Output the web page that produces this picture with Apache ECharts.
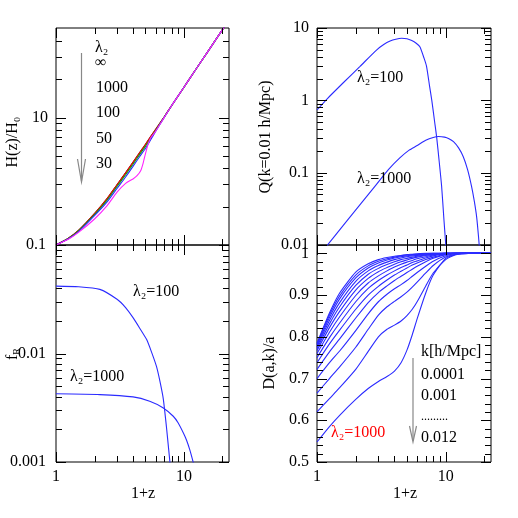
<!DOCTYPE html>
<html><head><meta charset="utf-8">
<script src="https://cdn.jsdelivr.net/npm/echarts@6/dist/echarts.min.js"></script>
<style>html,body{margin:0;padding:0;background:#fff}#c{width:518px;height:518px}</style>
</head><body><div id="c"></div>
<script>
// ---------------- data ----------------
const hzX = [1, 1.25, 1.5, 2, 2.5, 3, 3.5, 4, 4.5, 5, 5.5, 6, 7, 8, 10, 12, 15, 20, 22.5];
const hzInf   = [1, 1.13, 1.30, 1.76, 2.30, 2.97, 3.68, 4.45, 5.30, 6.15, 7.10, 8.05, 10.1, 12.4, 17.3, 22.8, 31.8, 49, 58.4];
const hz1000  = [1, 1.13, 1.30, 1.76, 2.30, 2.97, 3.68, 4.45, 5.30, 6.15, 7.10, 8.05, 10.1, 12.4, 17.3, 22.8, 31.8, 49, 58.4];
const hz100   = [1, 1.125, 1.29, 1.73, 2.24, 2.88, 3.56, 4.30, 5.12, 5.95, 6.90, 7.92, 10.05, 12.4, 17.3, 22.8, 31.8, 49, 58.4];
const hz50    = [1, 1.12, 1.275, 1.70, 2.17, 2.78, 3.42, 4.14, 4.93, 5.72, 6.71, 7.77, 10.0, 12.4, 17.3, 22.8, 31.8, 49, 58.4];
const hz30X   = [1, 1.25, 1.5, 2, 2.5, 3, 3.5, 4, 4.3, 4.6, 4.8, 5, 5.25, 5.5, 6, 7, 8, 10, 12, 15, 20, 22.5];
const hz30    = [1, 1.11, 1.255, 1.60, 2.03, 2.60, 3.05, 3.30, 3.50, 3.85, 4.40, 5.20, 6.20, 6.95, 7.80, 10.0, 12.4, 17.3, 22.8, 31.8, 49, 58.4];
const hzLegend = ['λ₂', '∞', '1000', '100', '50', '30'];

const q100X = [1, 1.2, 1.6, 2.16, 2.9, 3.3, 3.7, 4.1, 4.55, 5.0, 5.45, 5.9, 6.3, 6.8, 7.1, 7.5, 7.8, 8.2, 8.5, 8.9, 9.3, 9.7, 10.0, 10.3];
const q100  = [0.735, 1.05, 1.75, 2.95, 4.95, 5.9, 6.6, 7.0, 7.2, 7.1, 6.7, 6.15, 5.5, 3.8, 2.95, 1.56, 1.0, 0.51, 0.315, 0.144, 0.065, 0.022, 0.0105, 0.005];
const q1000X = [1.15, 1.6, 2.2, 2.9, 3.6, 4.4, 5.2, 5.95, 7.0, 8.0, 8.8, 9.8, 10.6, 11.5, 12.6, 13.7, 14.8, 15.9, 16.7, 17.4, 18.0, 18.5];
const q1000  = [0.009, 0.0187, 0.0377, 0.069, 0.111, 0.16, 0.205, 0.235, 0.28, 0.307, 0.316, 0.31, 0.295, 0.268, 0.22, 0.166, 0.11, 0.064, 0.04, 0.0245, 0.013, 0.007];

const f100X = [1, 1.5, 2.2, 3.0, 3.5, 4.0, 4.5, 5.1, 5.6, 6.1, 6.5, 6.9, 7.3, 7.6, 7.8, 8.0];
const f100  = [0.0418, 0.0412, 0.039, 0.0316, 0.0265, 0.0214, 0.0172, 0.0135, 0.0102, 0.0076, 0.0055, 0.0038, 0.0021, 0.0013, 0.00095, 0.0007];
const f1000X = [1, 2.2, 4.0, 5.4, 6.9, 8.25, 9.0, 9.9, 10.5, 11.1, 11.8, 12.2];
const f1000  = [0.00425, 0.00418, 0.00398, 0.00363, 0.00315, 0.00264, 0.0023, 0.00185, 0.00158, 0.0013, 0.001, 0.00085];

const dX = [1, 1.25, 1.5, 2, 2.5, 3, 3.5, 4, 4.5, 5, 5.5, 6, 7, 8, 10, 12, 15, 22.5];
const dK01 = [0.785,0.857,0.905,0.955,0.975,0.985,0.990,0.993,0.995,0.997,0.998,0.999,1,1,1,1,1,1];
const dK02 = [0.782,0.852,0.898,0.948,0.970,0.981,0.987,0.991,0.994,0.996,0.997,0.998,0.999,1,1,1,1,1];
const dK03 = [0.779,0.846,0.891,0.941,0.965,0.977,0.984,0.989,0.992,0.994,0.996,0.997,0.998,0.999,1,1,1,1];
const dK04 = [0.776,0.839,0.882,0.933,0.958,0.971,0.979,0.985,0.989,0.992,0.994,0.995,0.997,0.999,1,1,1,1];
const dK05 = [0.772,0.831,0.872,0.923,0.950,0.964,0.973,0.980,0.985,0.988,0.991,0.993,0.996,0.998,1,1,1,1];
const dK06 = [0.767,0.822,0.861,0.912,0.940,0.956,0.966,0.974,0.980,0.984,0.988,0.991,0.995,0.997,1,1,1,1];
const dK07 = [0.760,0.811,0.848,0.899,0.929,0.946,0.958,0.967,0.974,0.979,0.983,0.987,0.992,0.996,0.999,1,1,1];
const dK08 = [0.750,0.798,0.833,0.884,0.916,0.935,0.948,0.958,0.966,0.972,0.978,0.982,0.989,0.994,0.999,1,1,1];
const dK09 = [0.738,0.783,0.816,0.866,0.900,0.921,0.936,0.948,0.957,0.965,0.972,0.977,0.985,0.991,0.998,1,1,1];
const dK10 = [0.722,0.764,0.795,0.845,0.882,0.906,0.922,0.935,0.945,0.954,0.962,0.969,0.980,0.988,0.997,1,1,1];
const dK11 = [0.700,0.738,0.766,0.815,0.855,0.884,0.902,0.915,0.925,0.935,0.945,0.954,0.969,0.981,0.994,0.999,1,1];
const dK12 = [0.665,0.700,0.728,0.775,0.818,0.852,0.872,0.885,0.896,0.907,0.919,0.931,0.953,0.971,0.991,0.998,1,1];
const dK13 = [0.620,0.652,0.678,0.722,0.765,0.800,0.818,0.828,0.838,0.851,0.866,0.884,0.922,0.953,0.985,0.997,1,1];
const dK14 = [0.548,0.585,0.612,0.650,0.676,0.693,0.705,0.718,0.738,0.768,0.805,0.843,0.905,0.948,0.988,0.998,1,1];
const dCurves = [dK01,dK02,dK03,dK04,dK05,dK06,dK07,dK08,dK09,dK10,dK11,dK12,dK13,dK14];
const dLegend = ['k[h/Mpc]', '0.0001', '0.001', '.........', '0.012'];

const xMajorTicks = [1, 10];
const xMinorTicks = [2, 3, 4, 5, 6, 7, 8, 9, 20];
const hMajorTicks = [1, 10];
const hMinorTicks = [2, 3, 4, 5, 6, 7, 8, 9, 20, 30, 40];
const qMajorTicks = [0.01, 0.1, 1, 10];
const qMinorTicks = [0.02,0.03,0.04,0.05,0.06,0.07,0.08,0.09,0.2,0.3,0.4,0.5,0.6,0.7,0.8,0.9,2,3,4,5,6,7,8,9];
const fMajorTicks = [0.001, 0.01, 0.1];
const fMinorTicks = [0.002,0.003,0.004,0.005,0.006,0.007,0.008,0.009,0.02,0.03,0.04,0.05,0.06,0.07,0.08,0.09];
const dMajorTicks = [0.5, 0.6, 0.7, 0.8, 0.9, 1.0];
const dMinorTicks = [0.52,0.54,0.56,0.58,0.62,0.64,0.66,0.68,0.72,0.74,0.76,0.78,0.82,0.84,0.86,0.88,0.92,0.94,0.96,0.98];

// ---------------- chart ----------------
const FONT = "'Liberation Serif','DejaVu Serif',serif";
const BLUE = '#2b2bff';
const zip = (xs, ys) => xs.map((x, i) => [x, ys[i]]);

const gridBoxes = [
  {left: 56, top: 28, width: 173, height: 217},
  {left: 317, top: 28, width: 174, height: 217},
  {left: 56, top: 245, width: 173, height: 217},
  {left: 317, top: 245, width: 174, height: 217}
];
const grids = gridBoxes.map(g => Object.assign({}, g, {show: true, borderColor: '#000', borderWidth: 1, backgroundColor: 'transparent', containLabel: false}));

const isDecade = v => Math.abs(Math.log10(v) - Math.round(Math.log10(v))) < 1e-6;
const labelStyle = {fontFamily: FONT, fontSize: 16, color: '#000'};

const xAxes = [0,1,2,3].map(i => ({
  type: 'log', logBase: 10, gridIndex: i, min: 1, max: 22.5,
  axisLine: {show: false}, axisTick: {show: false}, splitLine: {show: false},
  axisLabel: Object.assign({show: i >= 2, margin: 7, showMaxLabel: false,
    formatter: v => isDecade(v) ? String(Math.round(v)) : ''}, labelStyle)
}));

const yCommon = {axisLine: {show: false}, axisTick: {show: false}, splitLine: {show: false}};
const yAxes = [
  Object.assign({type: 'log', logBase: 10, gridIndex: 0, min: 1, max: 50.5,
    axisLabel: Object.assign({margin: 8, formatter: v => (isDecade(v) && Math.round(v) !== 1) ? String(Math.round(v)) : ''}, labelStyle)}, yCommon),
  Object.assign({type: 'log', logBase: 10, gridIndex: 1, min: 0.01, max: 10,
    axisLabel: Object.assign({margin: 8, formatter: v => isDecade(v) ? String(+v.toPrecision(3)) : ''}, labelStyle)}, yCommon),
  Object.assign({type: 'log', logBase: 10, gridIndex: 2, min: 0.001, max: 0.1,
    axisLabel: Object.assign({margin: 10, formatter: v => isDecade(v) ? String(+v.toPrecision(3)) : ''}, labelStyle)}, yCommon),
  Object.assign({type: 'value', gridIndex: 3, min: 0.5, max: 1.02, interval: 0.1,
    axisLabel: Object.assign({margin: 8, showMaxLabel: true, formatter: v => {
      const r = Math.round(v * 10);
      if (Math.abs(v * 10 - r) > 1e-6) return '';
      return r === 10 ? '1' : (r / 10).toFixed(1);
    }}, labelStyle)}, yCommon)
];

function lineSeries(gi, data, color, z) {
  return {type: 'line', xAxisIndex: gi, yAxisIndex: gi, data, showSymbol: false, symbol: 'none',
    smooth: 0.2, clip: true, z: z || 2,
    lineStyle: {color, width: 1.1}, emphasis: {disabled: true}, silent: true};
}

const series = [
  lineSeries(0, zip(hzX, hzInf), '#000000', 2),
  lineSeries(0, zip(hzX, hz1000), '#ff0000', 3),
  lineSeries(0, zip(hzX, hz100), '#00b000', 4),
  lineSeries(0, zip(hzX, hz50), '#2b2bff', 5),
  lineSeries(0, zip(hz30X, hz30), '#ff22ff', 6),
  lineSeries(1, zip(q100X, q100), BLUE),
  lineSeries(1, zip(q1000X, q1000), BLUE),
  lineSeries(2, zip(f100X, f100), BLUE),
  lineSeries(2, zip(f1000X, f1000), BLUE),
  ...dCurves.map(c => lineSeries(3, zip(dX, c), BLUE))
];

function txt(x, y, text, opt) {
  return Object.assign({type: 'text', x, y, silent: true, z: 100,
    style: Object.assign({text, fontFamily: FONT, fontSize: 16, fill: '#000', align: 'left', verticalAlign: 'middle'}, (opt && opt.style) || {})},
    opt && opt.rotation ? {rotation: opt.rotation} : {});
}
const ROT = Math.PI / 2;
const GRAY = '#888';

const graphic = [
  txt(13, 142, 'H(z)/H₀', {rotation: ROT, style: {align: 'center'}}),
  txt(266, 137, 'Q(k=0.01 h/Mpc)', {rotation: ROT, style: {align: 'center'}}),
  {type: 'text', x: 13, y: 354, rotation: ROT, z: 100, silent: true,
    style: {text: '{m|f}{s|R}', align: 'center', verticalAlign: 'middle',
      rich: {m: {fontFamily: FONT, fontSize: 16, fill: '#000'}, s: {fontFamily: FONT, fontSize: 10, fill: '#000', padding: [9, 0, 0, 0]}}}},
  txt(270, 363, 'D(a,k)/a', {rotation: ROT, style: {align: 'center'}}),
  txt(143, 494, '1+z', {style: {align: 'center'}}),
  txt(405, 494, '1+z', {style: {align: 'center'}}),
  txt(95, 48, hzLegend[0]),
  txt(95, 63, hzLegend[1]),
  txt(96, 88, hzLegend[2]),
  txt(96, 113, hzLegend[3]),
  txt(96, 139, hzLegend[4]),
  txt(96, 164, hzLegend[5]),
  {type: 'line', z: 100, silent: true, shape: {x1: 81.5, y1: 53, x2: 81.5, y2: 181}, style: {stroke: GRAY, lineWidth: 1.2}},
  {type: 'polyline', z: 100, silent: true, shape: {points: [[77.5, 159], [81.5, 182], [85.5, 159]]}, style: {stroke: GRAY, lineWidth: 1.2, fill: null}},
  txt(357, 78, 'λ₂=100'),
  txt(357, 179, 'λ₂=1000'),
  txt(133, 292, 'λ₂=100'),
  txt(70, 377, 'λ₂=1000'),
  txt(421, 352, dLegend[0]),
  txt(421, 375, dLegend[1]),
  txt(421, 396, dLegend[2]),
  txt(421, 417, dLegend[3], {style: {fontSize: 12}}),
  txt(421, 438, dLegend[4]),
  txt(331, 433, 'λ₂=1000', {style: {fill: '#ff0000'}}),
  {type: 'line', z: 100, silent: true, shape: {x1: 413, y1: 358, x2: 413, y2: 441}, style: {stroke: GRAY, lineWidth: 1.2}},
  {type: 'polyline', z: 100, silent: true, shape: {points: [[409.5, 426], [413, 442], [416.5, 426]]}, style: {stroke: GRAY, lineWidth: 1.2, fill: null}}
];

const chart = echarts.init(document.getElementById('c'), null, {renderer: 'canvas'});
chart.setOption({
  animation: false,
  backgroundColor: '#fff',
  grid: grids,
  xAxis: xAxes,
  yAxis: yAxes,
  series,
  graphic
});

// Tick marks on all four sides, positioned through the axes' own scales.
const yMaj = [hMajorTicks, qMajorTicks, fMajorTicks, dMajorTicks];
const yMin = [hMinorTicks, qMinorTicks, fMinorTicks, dMinorTicks];
const yRef = [1, 0.01, 0.001, 0.5];
const tickEls = [];
function bar(x, y, w, h) {
  tickEls.push({type: 'rect', z: 50, silent: true, shape: {x, y, width: w, height: h}, style: {fill: '#000'}});
}
for (let g = 0; g < 4; g++) {
  const b = gridBoxes[g];
  const top = b.top, bot = b.top + b.height, lft = b.left, rgt = b.left + b.width;
  const addX = (v, L) => {
    const pt = chart.convertToPixel({gridIndex: g}, [v, yRef[g]]);
    const px = pt && pt[0];
    if (!isFinite(px)) return;
    const x = Math.round(px);
    bar(x, bot - L, 1, L);
    bar(x, top, 1, L);
  };
  const addY = (v, L) => {
    const pt = chart.convertToPixel({gridIndex: g}, [1, v]);
    const py = pt && pt[1];
    if (!isFinite(py)) return;
    const y = Math.round(py);
    bar(lft, y, L, 1);
    bar(rgt - L, y, L, 1);
  };
  xMajorTicks.forEach(v => addX(v, 10));
  xMinorTicks.forEach(v => addX(v, 6));
  yMaj[g].forEach(v => addY(v, 10));
  yMin[g].forEach(v => addY(v, 6));
}
chart.setOption({graphic: graphic.concat(tickEls)});
</script>
</body></html>
